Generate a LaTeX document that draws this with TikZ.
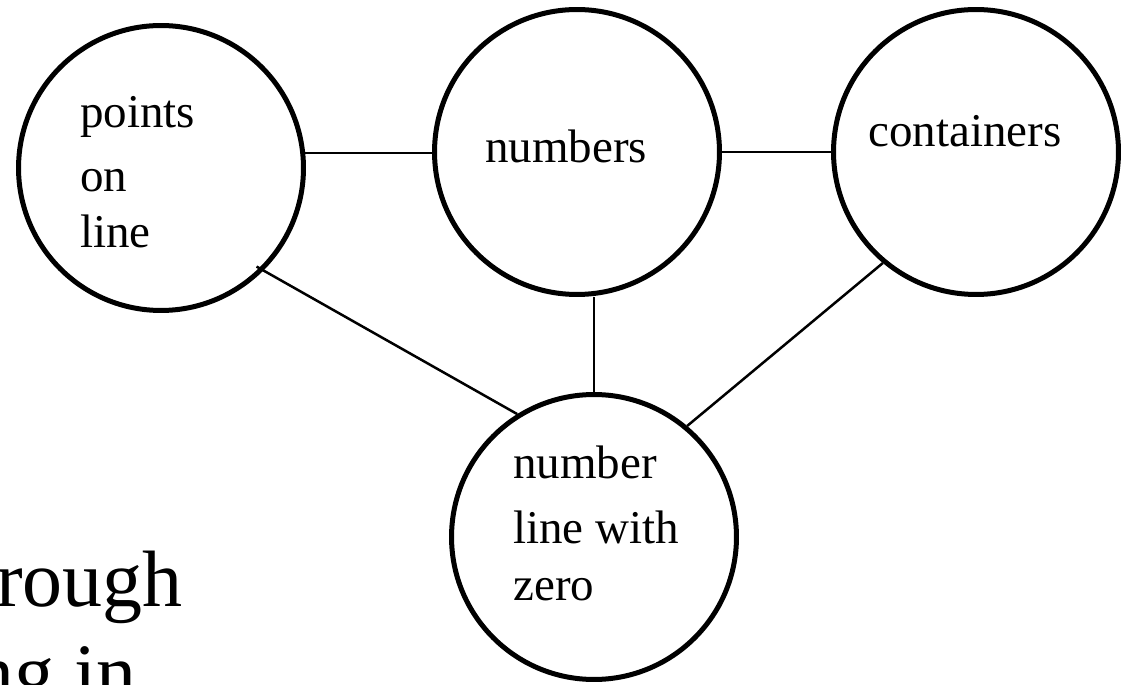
\documentclass[tikz,border=0pt]{standalone}
\usepackage{fontspec}
\setmainfont{Liberation Serif}
\begin{document}
\begin{tikzpicture}[x=0.02cm,y=-0.02cm,
  bubble/.style={circle, draw, line width=0.1cm, minimum size=5.7cm, inner sep=0pt},
  link/.style={line width=0.05cm},
  lbl/.style={anchor=base west, inner sep=0pt, font=\fontsize{26.75}{32}\selectfont},
  big/.style={anchor=base east, inner sep=0pt, font=\fontsize{45.5}{52}\selectfont}]
\useasboundingbox (0,0) rectangle (1125,685);
\clip (0,0) rectangle (1125,685);

% circles
\node[bubble] (c1) at (161,168) {};
\node[bubble] (c2) at (577,152) {};
\node[bubble] (c3) at (976,152) {};
\node[bubble] (c4) at (594,537) {};

% labels
\node[lbl] (t1a) at (80,128) {points};
\node[lbl] (t1b) at (80,192) {on};
\node[lbl] (t1c) at (80,248) {line};
\node[lbl] (t2) at (485,163) {numbers};
\node[lbl] (t3) at (868,147) {containers};
\node[lbl] (t4a) at (513,479) {number};
\node[lbl] (t4b) at (513,543) {line with};
\node[lbl] (t4c) at (513,600) {zero};

% partial text at bottom left
\node[big] (b1) at (183,606) {rough};
\node[big] (b2) at (137,699) {ng in};

% connectors
\draw[link] (c1.6) -- (c1.6 -| c2.west);
\draw[link] (c2.east) -- (c3.west);
\draw[link, shorten <=-0.16cm] (c1.-45) -- (c4.122);
\draw[link] (c4.north) -- (c4.north |- c2.south);
\draw[link] (c3.-130) -- (c4.50);
\end{tikzpicture}
\end{document}
